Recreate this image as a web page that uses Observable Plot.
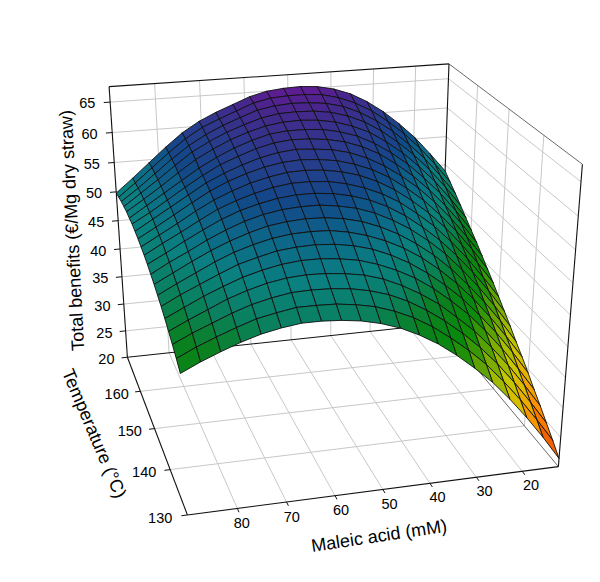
<!DOCTYPE html>
<html><head><meta charset="utf-8">
<script src="https://cdn.jsdelivr.net/npm/d3@7"></script>
<script src="https://cdn.jsdelivr.net/npm/@observablehq/plot@0.6"></script>
<style>html,body{margin:0;padding:0;background:#fff}svg{display:block}</style>
</head><body><div id="chart"></div>
<script>
const U0=12,U1=90,T0=130,T1=170,Z0=20,Z1=67.5;
const maleicTicks=[80,70,60,50,40,30,20];
const tempTicks=[130,140,150,160];
const benefitTicks=[20,25,30,35,40,45,50,55,60,65];
// Benefits read from the surface: one array per maleic acid level (12 to 90 mM), temperature 170 down to 130 in 2 degree steps
const m00=[48.9,47.8,46.7,45.5,44.3,43.1,41.9,40.6,39.3,38.0,36.6,35.2,33.8,32.3,30.9,29.4,27.8,26.3,24.7,23.1,21.4];
const m01=[52.2,51.2,50.1,49.0,47.8,46.7,45.5,44.2,43.0,41.7,40.3,39.0,37.6,36.2,34.7,33.3,31.7,30.2,28.6,27.0,25.4];
const m02=[55.3,54.3,53.3,52.2,51.1,50.0,48.8,47.6,46.4,45.1,43.8,42.5,41.1,39.7,38.3,36.9,35.4,33.9,32.3,30.7,29.1];
const m03=[57.9,57.0,56.0,55.0,53.9,52.8,51.7,50.6,49.4,48.2,46.9,45.6,44.3,42.9,41.6,40.1,38.7,37.2,35.7,34.1,32.5];
const m04=[60.2,59.3,58.4,57.4,56.4,55.4,54.3,53.2,52.1,50.9,49.7,48.4,47.2,45.8,44.5,43.1,41.7,40.2,38.7,37.2,35.6];
const m05=[62.1,61.3,60.4,59.5,58.5,57.5,56.5,55.4,54.3,53.2,52.0,50.8,49.6,48.3,47.0,45.6,44.2,42.7,41.3,39.8,38.2];
const m06=[63.6,62.8,62.0,61.2,60.3,59.3,58.4,57.3,56.3,55.2,54.1,52.9,51.7,50.4,49.2,47.8,46.5,45.1,43.6,42.1,40.6];
const m07=[64.6,63.9,63.2,62.4,61.5,60.7,59.8,58.8,57.8,56.8,55.7,54.6,53.4,52.2,51.0,49.7,48.4,47.0,45.6,44.2,42.7];
const m08=[65.2,64.6,63.9,63.2,62.4,61.6,60.8,59.9,58.9,58.0,56.9,55.9,54.8,53.6,52.4,51.2,49.9,48.6,47.3,45.9,44.4];
const m09=[65.4,64.8,64.2,63.6,62.9,62.2,61.4,60.6,59.7,58.8,57.8,56.8,55.8,54.7,53.5,52.4,51.1,49.9,48.6,47.2,45.8];
const m10=[65.3,64.8,64.3,63.7,63.1,62.4,61.7,60.9,60.1,59.3,58.4,57.4,56.4,55.4,54.3,53.2,52.0,50.8,49.5,48.2,46.8];
const m11=[65.0,64.6,64.1,63.6,63.0,62.4,61.8,61.1,60.3,59.5,58.6,57.7,56.8,55.8,54.8,53.7,52.5,51.3,50.1,48.8,47.5];
const m12=[64.3,64.0,63.6,63.1,62.6,62.1,61.5,60.8,60.1,59.4,58.6,57.7,56.8,55.9,54.9,53.9,52.8,51.6,50.4,49.2,47.9];
const m13=[63.2,62.9,62.6,62.2,61.8,61.3,60.8,60.2,59.6,58.9,58.2,57.4,56.6,55.7,54.8,53.8,52.8,51.7,50.5,49.3,48.1];
const m14=[62.1,61.8,61.5,61.2,60.8,60.3,59.8,59.3,58.8,58.2,57.5,56.8,56.1,55.3,54.4,53.5,52.5,51.5,50.4,49.3,48.1];
const m15=[60.8,60.6,60.2,59.9,59.5,59.0,58.7,58.2,57.8,57.2,56.6,56.0,55.3,54.5,53.7,52.8,51.9,51.0,49.9,48.8,47.7];
const m16=[59.1,58.9,58.6,58.4,58.0,57.5,57.2,56.9,56.5,56.0,55.5,54.9,54.2,53.5,52.8,52.0,51.1,50.2,49.2,48.2,47.1];
const m17=[56.9,56.8,56.6,56.4,56.1,55.7,55.5,55.2,54.9,54.5,54.0,53.5,52.9,52.3,51.6,50.8,50.0,49.2,48.2,47.2,46.2];
const m18=[54.5,54.5,54.4,54.3,54.1,53.9,53.7,53.5,53.2,52.8,52.4,52.0,51.4,50.9,50.2,49.5,48.8,47.9,47.0,46.1,45.1];
const m19=[52.1,52.2,52.2,52.3,52.2,52.1,51.9,51.8,51.5,51.2,50.9,50.4,50.0,49.4,48.8,48.2,47.4,46.6,45.8,44.9,43.9];
const m20=[49.8,50.0,50.2,50.3,50.4,50.3,50.3,50.1,49.9,49.6,49.3,48.9,48.4,47.9,47.3,46.7,46.0,45.2,44.4,43.5,42.5];
const columns=[m00,m01,m02,m03,m04,m05,m06,m07,m08,m09,m10,m11,m12,m13,m14,m15,m16,m17,m18,m19,m20];
const cal=[[1,0,0,186.7,514.3],[0,0,0,558,466],[0,1,0,439,323.5],[1,1,0,127,357],[1,1,1,108.7,86],[0,1,1,448.3,63.3],[0,0,1,582,164]];
function solve(rows){
  const n=11,M=Array.from({length:n},()=>Array(n+1).fill(0));
  for(const r of rows)for(let i=0;i<n;i++){for(let j=0;j<n;j++)M[i][j]+=r[i]*r[j];M[i][n]+=r[i]*r[n];}
  for(let i=0;i<n;i++){let p=i;for(let k=i;k<n;k++)if(Math.abs(M[k][i])>Math.abs(M[p][i]))p=k;[M[i],M[p]]=[M[p],M[i]];
    for(let k=0;k<n;k++)if(k!==i){const f=M[k][i]/M[i][i];for(let j=i;j<=n;j++)M[k][j]-=f*M[i][j];}}
  return M.map((r,i)=>r[n]/r[i]);
}
const rows=[];for(const [a,b,c,x,y] of cal){rows.push([a,b,c,1,0,0,0,0,-a*x,-b*x,-c*x,x]);rows.push([0,0,0,0,a,b,c,1,-a*y,-b*y,-c*y,y]);}
const P=solve(rows);
function proj(u,T,z){const a=(u-U0)/(U1-U0),b=(T-T0)/(T1-T0),c=(z-Z0)/(Z1-Z0),w=P[8]*a+P[9]*b+P[10]*c+1;
  return [(P[0]*a+P[1]*b+P[2]*c+P[3])/w,(P[4]*a+P[5]*b+P[6]*c+P[7])/w];}
const N=20;
const uGrid=d3.range(N+1).map(i=>U0+(U1-U0)*i/N), tGrid=d3.range(N+1).map(i=>T1-(T1-T0)*i/N);
const surf=tGrid.map((T,j)=>uGrid.map((u,k)=>columns[k][j]));
const quads=[];let id=0;
for(let r=0;r<N;r++)for(let c=0;c<N;c++){
  const m=(surf[r][c]+surf[r][c+1]+surf[r+1][c]+surf[r+1][c+1])/4;
  for(const [i,j] of [[r,c],[r,c+1],[r+1,c+1],[r+1,c],[r,c]]){const p=proj(uGrid[j],tGrid[i],surf[i][j]);quads.push({id,m,px:p[0],py:p[1]});}
  id++;
}
const seg=(a,b)=>{const p=proj(...a),q=proj(...b);return {x1:p[0],y1:p[1],x2:q[0],y2:q[1]};};
const grid=[];
for(const t of tempTicks.slice(1))grid.push(seg([U0,t,Z0],[U1,t,Z0]));
for(const u of maleicTicks)grid.push(seg([u,T0,Z0],[u,T1,Z0]));
for(const z of benefitTicks.slice(1)){grid.push(seg([U0,T1,z],[U1,T1,z]));grid.push(seg([U0,T0,z],[U0,T1,z]));}
for(const u of maleicTicks)grid.push(seg([u,T1,Z0],[u,T1,Z1]));
for(const t of tempTicks.slice(1))grid.push(seg([U0,t,Z0],[U0,t,Z1]));
const thin=[seg([U0,T0,Z1],[U0,T1,Z1]),seg([U0,T0,Z0],[U0,T1,Z0])];
const edges=[seg([U1,T0,Z0],[U0,T0,Z0]),seg([U1,T0,Z0],[U1,T1,Z0]),seg([U1,T1,Z0],[U0,T1,Z0]),seg([U1,T1,Z0],[U1,T1,Z1]),seg([U1,T1,Z1],[U0,T1,Z1]),seg([U0,T1,Z1],[U0,T1,Z0]),seg([U0,T0,Z0],[U0,T0,Z1])];
const ticks=[];
for(const z of benefitTicks)ticks.push(seg([U1,T1,z],[U1+1.4,T1,z]));
for(const t of tempTicks)ticks.push(seg([U1,t,Z0],[U1+1.2,t,Z0]));
for(const u of maleicTicks)ticks.push(seg([u,T0,Z0],[u,T0-.8,Z0]));
const lab=(u,T,z,t)=>{const p=proj(u,T,z);return {x:p[0],y:p[1],t};};
const labels=[...benefitTicks.map(z=>lab(95,T1,z,z)),...tempTicks.map(t=>lab(95.4,t,Z0,t)),...maleicTicks.map(u=>lab(u+.4,T0-3.1,Z0,u))];
const titles=[{...lab(100.5,T1,44,"Total benefits (€/Mg dry straw)"),r:-93},{...lab(103,150.5,Z0,"Temperature (°C)"),r:67},{...lab(56,T0-9,Z0,"Maleic acid (mM)"),r:-8.5}];
const seglink=(d,o)=>Plot.link(d,{x1:"x1",y1:"y1",x2:"x2",y2:"y2",...o});
const plot=Plot.plot({width:600,height:582,margin:0,
  x:{domain:[0,600],range:[0,600],axis:null},y:{domain:[0,582],range:[0,582],axis:null},
  color:{type:"linear",domain:[22,24,27,30,33,37,41,45,48,51,54,57,60.5,63.5,65.5],range:["#c04000","#f06000","#ff8a00","#e8b000","#c8c800","#70a800","#0a8a0a","#0a8020","#0a8060","#0a8080","#0c6888","#124888","#2a3a8c","#44288c","#641a94"]},
  style:{background:"#fff",fontFamily:"'Liberation Sans',Arial,sans-serif"},
  marks:[
    seglink(grid,{stroke:"#c8c8c8",strokeWidth:1}),
    seglink(thin,{stroke:"#444",strokeWidth:.8}),
    seglink(edges,{stroke:"#111",strokeWidth:1.1}),
    seglink(ticks,{stroke:"#111",strokeWidth:1}),
    Plot.line(quads,{x:"px",y:"py",z:"id",fill:"m",stroke:"#111",strokeWidth:.9,curve:"linear"}),
    Plot.text(labels,{x:"x",y:"y",text:"t",fontSize:14.5,fill:"#000"}),
    Plot.text(titles,{x:"x",y:"y",text:"t",fontSize:18,rotate:"r",fill:"#000"})
  ]});
document.getElementById("chart").append(plot);
</script></body></html>
